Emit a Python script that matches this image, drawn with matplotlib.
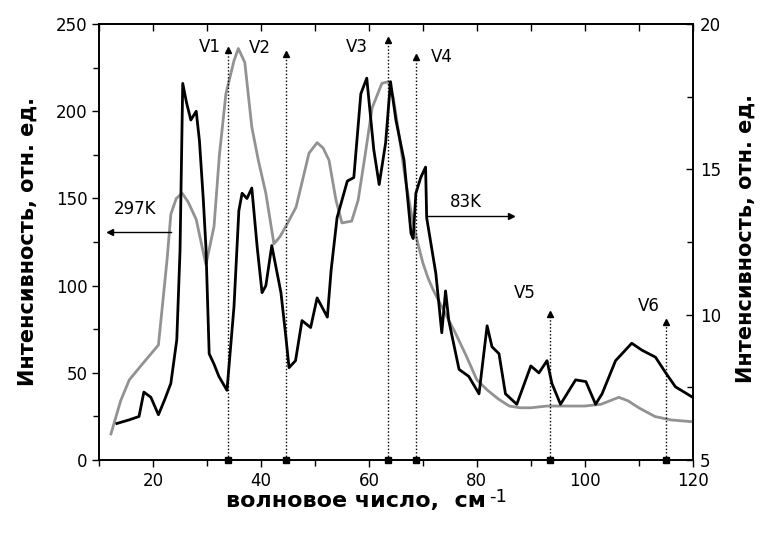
import matplotlib.pyplot as plt
from matplotlib.ticker import MultipleLocator

plt.rcParams['font.family'] = ['DejaVu Sans']

# 297 K spectrum (grey, left axis)
x_297 = [12.2, 14, 15.6, 18, 21, 22.6, 23.3, 24.3, 25.4, 26.5, 28, 29.8, 31.3, 32.3,
         33.5, 35, 35.8, 37, 38.3, 39.5, 40.9, 42.4, 43.5, 44.6, 46.5, 48.9, 50.4, 51.5,
         52.6, 53.9, 55, 56.8, 58, 59.3, 60.6, 62.4, 63.6, 64.5, 65.5, 66.8, 68, 69,
         70, 71, 72, 74, 76, 78, 80, 82, 84, 86, 88, 90, 93, 96, 100, 103, 106.3, 108,
         110, 113, 116, 120]
y_297 = [15, 34, 46, 55, 66, 115, 141, 150, 153, 148, 138, 112, 134, 175,
         210, 229, 236, 228, 191, 172, 153, 124, 128, 134, 145, 176, 182, 179,
         172, 149, 136, 137, 149, 175, 202, 216, 217, 208, 188, 160, 139, 125,
         113, 104, 97, 85, 73, 60, 46, 40, 35, 31, 30, 30, 31, 31, 31, 32, 36, 34,
         30, 25, 23, 22]

# 83 K spectrum (black, right axis)
x_83 = [13.3, 15.5, 17.4, 18.3, 19.6, 21.0, 22.2, 23.3, 24.4, 25.0, 25.5, 26.2, 27.0,
        28.0, 28.6, 29.3, 29.8, 30.4, 31.3, 32.2, 33.7, 35.0, 35.9, 36.5, 37.4, 38.3,
        39.3, 40.2, 40.9, 42.0, 43.7, 44.6, 45.2, 46.4, 47.6, 49.2, 50.4, 52.3, 53.0,
        54.1, 56.0, 57.2, 58.5, 59.6, 60.9, 61.9, 63.1, 64.0, 65.0, 66.5, 67.8, 68.2,
        68.7, 69.6, 70.5, 70.7, 72.4, 73.5, 74.2, 74.8, 76.7, 78.5, 80.4, 81.9, 82.8,
        84.1, 85.3, 87.4, 90.0, 91.5, 93.0, 93.9, 95.5, 98.3, 100.2, 102.0, 103.2,
        105.7, 108.7, 110.6, 113.1, 115.0, 116.8, 120.0]
y_83 = [6.26, 6.38, 6.50, 7.34, 7.16, 6.56, 7.10, 7.64, 9.14, 12.2, 17.96, 17.3, 16.7,
        17.0, 15.98, 14.0, 12.32, 8.66, 8.3, 7.88, 7.4, 10.28, 13.58, 14.18, 14.0, 14.36,
        12.32, 10.76, 11.0, 12.38, 10.76, 9.26, 8.18, 8.42, 9.8, 9.56, 10.58, 9.92, 11.54,
        13.34, 14.6, 14.72, 17.6, 18.14, 15.68, 14.48, 15.92, 18.02, 16.7, 15.32, 12.8, 12.62,
        14.18, 14.72, 15.08, 13.34, 11.42, 9.38, 10.82, 9.8, 8.12, 7.88, 7.28, 9.62, 8.9,
        8.66, 7.28, 6.92, 8.24, 8.0, 8.42, 7.64, 6.92, 7.76, 7.7, 6.92, 7.28,
        8.42, 9.02, 8.78, 8.54, 8.0, 7.52, 7.16]

# band positions V1..V6 and arrow tops (left-axis units)
v_names = ['V1', 'V2', 'V3', 'V4', 'V5', 'V6']
v_pos = [33.8, 44.6, 63.5, 68.7, 93.5, 115.0]
v_top = [235, 233, 241, 231, 84, 79]
# label offsets in points
v_off = [(-13, 2), (-19, 4), (-22, -5), (19, 0), (-18, 15), (-12, 12)]

fig = plt.figure(figsize=(7.68, 5.35), dpi=100)
ax = fig.add_axes([0.129, 0.140, 0.773, 0.815])
ax2 = ax.twinx()

ax.plot(x_297, y_297, color='#929292', lw=2.0, zorder=3)
ax2.plot(x_83, y_83, color='black', lw=2.0, zorder=3)

for name, xv, top, off in zip(v_names, v_pos, v_top, v_off):
    ax.plot([xv, xv], [0, top], color='black', lw=1.0, ls=(0, (1, 1.5)), zorder=4)
    ax.plot([xv], [top], marker='^', ms=4, color='black', zorder=5)
    ax.plot([xv], [0], marker='s', ms=4, color='black', zorder=5, clip_on=False)
    ax.annotate(name, (xv, top), xytext=off, textcoords='offset points',
                ha='center', va='center', fontsize=12)

# temperature arrows
ax.plot([23.3, 12.0], [131, 131], color='black', lw=1.0, zorder=4)
ax.plot([12.0], [131], marker='<', ms=4, color='black', zorder=5)
ax.text(16.7, 144, '297K', ha='center', va='center', fontsize=12)
ax.plot([71.0, 86.3], [140, 140], color='black', lw=1.0, zorder=4)
ax.plot([86.3], [140], marker='>', ms=4, color='black', zorder=5)
ax.text(78.0, 148, '83K', ha='center', va='center', fontsize=12)

ax.set_xlim(10, 120)
ax.set_ylim(0, 250)
ax2.set_ylim(5, 20)

ax.xaxis.set_major_locator(MultipleLocator(20))
ax.xaxis.set_minor_locator(MultipleLocator(10))
ax.yaxis.set_major_locator(MultipleLocator(50))
ax.yaxis.set_minor_locator(MultipleLocator(25))
ax2.yaxis.set_major_locator(MultipleLocator(5))
ax2.yaxis.set_minor_locator(MultipleLocator(2.5))

ax.tick_params(axis='both', which='both', direction='out', labelsize=12, width=1.0)
ax.tick_params(which='major', length=5)
ax.tick_params(which='minor', length=4)
ax2.tick_params(axis='y', which='both', direction='in', labelsize=12, width=1.0, pad=5)
ax2.tick_params(which='major', length=5)
ax2.tick_params(which='minor', length=4)

# inward ticks along the top edge
top = ax.secondary_xaxis('top')
top.xaxis.set_major_locator(MultipleLocator(10))
top.tick_params(direction='in', length=5, width=1.0, labeltop=False)

for a in (ax, ax2):
    for s in a.spines.values():
        s.set_linewidth(1.2)
top.spines['top'].set_linewidth(1.2)

xl = fig.text(226 / 768, 1 - 501 / 535, 'волновое число,  см', ha='left', va='center',
              fontsize=16, fontweight='bold')
fig.canvas.draw()
bb = xl.get_window_extent()
fig.text(bb.x1 / 768 + 0.004, bb.y1 / 535 - 0.012, '-1', ha='left', va='center', fontsize=13)
fig.text(0.036, 0.548, 'Интенсивность, отн. ед.', rotation=90, ha='center', va='center',
         fontsize=15, fontweight='bold')
fig.text(0.971, 0.555, 'Интенсивность, отн. ед.', rotation=90, ha='center', va='center',
         fontsize=15, fontweight='bold')

fig.savefig('out.png', dpi=100)
